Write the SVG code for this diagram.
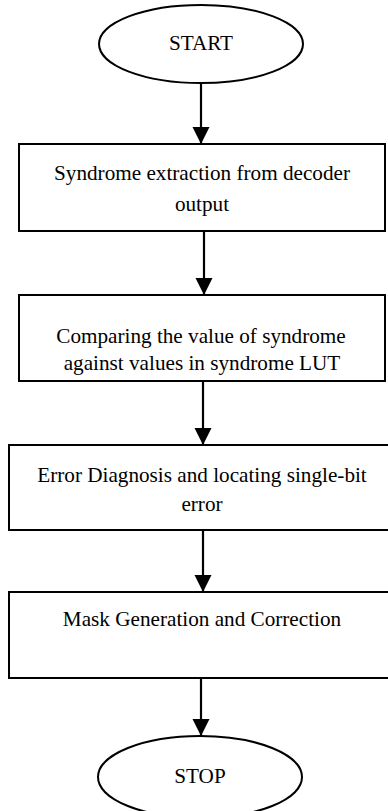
<svg xmlns="http://www.w3.org/2000/svg" width="388" height="811" viewBox="0 0 388 811">
<defs>
<style>
.shape{fill:#fff;stroke:#000;stroke-width:2}
.t{font-family:"Liberation Serif","Times New Roman",serif;font-size:21.2px;fill:#000;text-anchor:middle}
.c{stroke:#000;stroke-width:2.2;fill:none}
</style>
<marker id="ah" markerUnits="userSpaceOnUse" markerWidth="18" markerHeight="18" viewBox="0 0 18 18" refX="17" refY="9" orient="auto">
<path d="M0,0.5 L17,9 L0,17.5 Z" fill="#000"/>
</marker>
</defs>
<rect width="388" height="811" fill="#fff"/>
<g id="connectors">
<line class="c" x1="201" y1="83" x2="201" y2="144" marker-end="url(#ah)"/>
<line class="c" x1="204" y1="231" x2="204" y2="295" marker-end="url(#ah)"/>
<line class="c" x1="203" y1="381" x2="203" y2="445" marker-end="url(#ah)"/>
<line class="c" x1="203" y1="530" x2="203" y2="592" marker-end="url(#ah)"/>
<line class="c" x1="201" y1="678" x2="201" y2="736" marker-end="url(#ah)"/>
</g>
<g id="start">
<ellipse class="shape" cx="201" cy="44" rx="102" ry="39"/>
<text class="t" x="201" y="50">START</text>
</g>
<g id="extract">
<rect class="shape" x="19" y="144" width="366" height="87"/>
<text class="t" x="202" y="180">Syndrome extraction from decoder</text>
<text class="t" x="202" y="211">output</text>
</g>
<g id="compare">
<rect class="shape" x="19" y="295" width="366" height="86"/>
<text class="t" x="201" y="343">Comparing the value of syndrome</text>
<text class="t" x="202" y="370">against values in syndrome LUT</text>
</g>
<g id="diagnose">
<rect class="shape" x="9" y="445" width="392" height="85"/>
<text class="t" x="202" y="482">Error Diagnosis and locating single-bit</text>
<text class="t" x="202" y="511">error</text>
</g>
<g id="mask">
<rect class="shape" x="9" y="592" width="392" height="86"/>
<text class="t" x="202" y="626">Mask Generation and Correction</text>
</g>
<g id="stop">
<ellipse class="shape" cx="200" cy="777" rx="102" ry="41"/>
<text class="t" x="200" y="783">STOP</text>
</g>
</svg>
